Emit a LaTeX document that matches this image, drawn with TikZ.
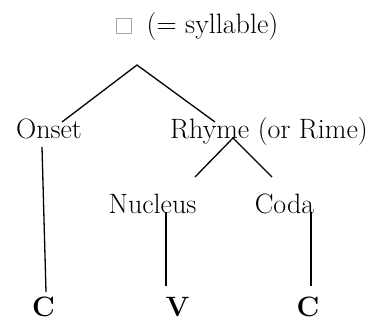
\documentclass[tikz,border=0pt]{standalone}
\usepackage{fontspec}
\begin{document}
\begin{tikzpicture}[x=1pt,y=-1pt,
  lbl/.style={inner sep=0pt,anchor=base,font=\fontsize{28}{34}\selectfont},
  bl/.style={lbl,font=\fontsize{28}{34}\selectfont\bfseries},
  seg/.style={line width=1.3pt,black}]
\useasboundingbox (0,0) rectangle (383,322);
% labels
\node[draw=gray!70,line width=0.6pt,minimum size=15pt,inner sep=0pt] (box) at (123.5,25.5) {};
\node[lbl] (syl) at (212.5,33) {(= syllable)};
\node[lbl] (onset) at (49,138) {Onset};
\node[lbl] (rhyme) at (269,138) {Rhyme (or Rime)};
\node[lbl] (nucleus) at (152.5,213) {Nucleus};
\node[lbl] (coda) at (284.5,213) {Coda};
\node[bl] (c1) at (43.5,316) {C};
\node[bl] (v) at (177.5,316) {V};
\node[bl] (c2) at (308,316) {C};
% connector points
\coordinate (sApex) at (137,65);
\coordinate (oTop) at (62,122);
\coordinate (rTop) at (215,122);
\coordinate (oBot) at (42,147);
\coordinate (c1Top) at (46,292);
\coordinate (rApex) at (233,138);
\coordinate (nTop) at (195,177);
\coordinate (cdTop) at (272,177);
\coordinate (nBot) at (166,212);
\coordinate (vTop) at (166,286);
\coordinate (cdBot) at (311,212);
\coordinate (c2Top) at (311,286);
% connectors
\draw[seg] (oTop) -- (sApex) -- (rTop);
\draw[seg] (oBot) -- (c1Top);
\draw[seg] (nTop) -- (rApex) -- (cdTop);
\draw[seg] (nBot) -- (vTop);
\draw[seg] (cdBot) -- (c2Top);
\end{tikzpicture}
\end{document}
